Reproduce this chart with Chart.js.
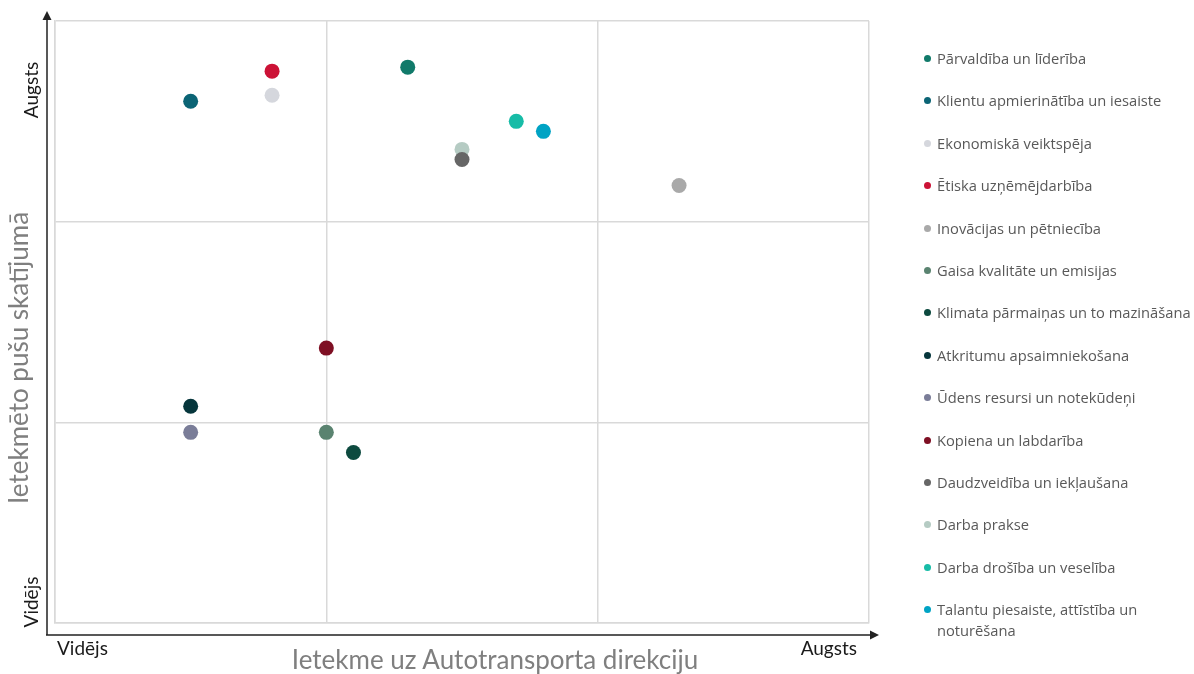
<!DOCTYPE html>
<html>
<head>
<meta charset="utf-8">
<script src="https://cdn.jsdelivr.net/npm/chart.js@4.4.1/dist/chart.umd.min.js"></script>
<style>
  html, body { margin: 0; padding: 0; background: #fff; }
  #wrap { position: relative; width: 1194px; height: 674px; overflow: hidden; font-family: Lato, "Open Sans", sans-serif; }
  #matrix { position: absolute; left: 0; top: 0; }
  .lbl { position: absolute; white-space: nowrap; }
  .title { color: #7f7f7f; font-size: 26px; }
  .tick { color: #1a1a1a; font-size: 19px; }
  .rot { transform: translate(-50%, -50%) rotate(-90deg); }
  #legend { position: absolute; left: 921px; top: 48px; margin: 0; padding: 0; list-style: none; }
  #legend li { position: relative; height: 42.4px; padding-left: 16px; width: 273px; box-sizing: border-box;
               font-family: "Open Sans", sans-serif; font-size: 14.7px; line-height: 21px; color: #595959; }
  #legend li span.dot { position: absolute; left: 3px; top: 7px; width: 7px; height: 7px; border-radius: 50%; }
</style>
</head>
<body>
<div id="wrap">
  <canvas id="matrix" width="1194" height="674"></canvas>
  <div class="lbl title" style="left:495px; top:659px; transform:translate(-50%,-50%);">Ietekme uz Autotransporta direkciju</div>
  <div class="lbl title rot" style="left:18px; top:358px;">Ietekmēto pušu skatījumā</div>
  <div class="lbl tick" style="left:57px; top:636px;">Vidējs</div>
  <div class="lbl tick" style="right:337px; top:636px;">Augsts</div>
  <div class="lbl tick rot" style="left:30px; top:90px;">Augsts</div>
  <div class="lbl tick rot" style="left:30px; top:602px;">Vidējs</div>
  <ul id="legend"></ul>
</div>
<script>
// temati (būtiskuma matrica)
const topics = [
  "Pārvaldība un līderība",
  "Klientu apmierinātība un iesaiste",
  "Ekonomiskā veiktspēja",
  "Ētiska uzņēmējdarbība",
  "Inovācijas un pētniecība",
  "Gaisa kvalitāte un emisijas",
  "Klimata pārmaiņas un to mazināšana",
  "Atkritumu apsaimniekošana",
  "Ūdens resursi un notekūdeņi",
  "Kopiena un labdarība",
  "Daudzveidība un iekļaušana",
  "Darba prakse",
  "Darba drošība un veselība",
  "Talantu piesaiste, attīstība un noturēšana"
];
// x - ietekme uz direkciju, y - pušu skatījums (0..3)
const impactOrg  = [1.30, 0.50, 0.80, 0.80, 2.30, 1.00, 1.10, 0.50, 0.50, 1.00, 1.50, 1.50, 1.70, 1.80];
const stakeView  = [2.77, 2.60, 2.63, 2.75, 2.18, 0.95, 0.85, 1.08, 0.95, 1.37, 2.31, 2.36, 2.50, 2.45];
const colors = ["#117a6a", "#0b6475", "#d5d7dd", "#cc1236", "#a9a9a9", "#5a8370", "#0d4a3f",
                "#06363c", "#7a7d98", "#7e0f23", "#666666", "#b5cbc3", "#17bca7", "#00a3c4"];

const datasets = topics.map((t, i) => ({
  label: t,
  data: [{ x: impactOrg[i], y: stakeView[i] }],
  backgroundColor: colors[i],
  borderColor: colors[i],
  pointRadius: 7.5,
  pointHoverRadius: 7.5,
  borderWidth: 0
}));

// bultas gar asīm
const arrows = {
  id: 'arrows',
  afterDraw(chart) {
    const { ctx, chartArea: a } = chart;
    const x0 = a.left - 8, y0 = a.bottom + 12;
    ctx.save();
    ctx.strokeStyle = '#222';
    ctx.fillStyle = '#222';
    ctx.lineWidth = 1.5;
    ctx.beginPath();
    ctx.moveTo(x0, y0); ctx.lineTo(x0, a.top - 4);
    ctx.moveTo(x0 - 1, y0); ctx.lineTo(a.right + 2, y0);
    ctx.stroke();
    ctx.beginPath();
    ctx.moveTo(x0, a.top - 10); ctx.lineTo(x0 - 4.5, a.top - 1); ctx.lineTo(x0 + 4.5, a.top - 1); ctx.closePath();
    ctx.fill();
    ctx.beginPath();
    ctx.moveTo(a.right + 10, y0); ctx.lineTo(a.right + 1, y0 - 4.5); ctx.lineTo(a.right + 1, y0 + 4.5); ctx.closePath();
    ctx.fill();
    ctx.restore();
  }
};

const chart = new Chart(document.getElementById('matrix'), {
  type: 'scatter',
  data: { datasets: datasets },
  options: {
    responsive: false,
    animation: false,
    layout: { padding: { left: 55, top: 21, right: 325, bottom: 51 } },
    plugins: { legend: { display: false }, tooltip: { enabled: false } },
    scales: {
      x: {
        min: 0, max: 3,
        ticks: { display: false, stepSize: 1 },
        grid: { color: '#d9d9d9', lineWidth: 1.5, drawTicks: false },
        border: { color: '#d9d9d9', width: 1.5 }
      },
      y: {
        min: 0, max: 3,
        ticks: { display: false, stepSize: 1 },
        grid: { color: '#d9d9d9', lineWidth: 1.5, drawTicks: false },
        border: { color: '#d9d9d9', width: 1.5 }
      }
    }
  },
  plugins: [arrows]
});

// leģenda
const legend = document.getElementById('legend');
topics.forEach((t, i) => {
  const li = document.createElement('li');
  li.innerHTML = `<span class="dot" style="background:${colors[i]}"></span>${t}`;
  legend.appendChild(li);
});
</script>
</body>
</html>
